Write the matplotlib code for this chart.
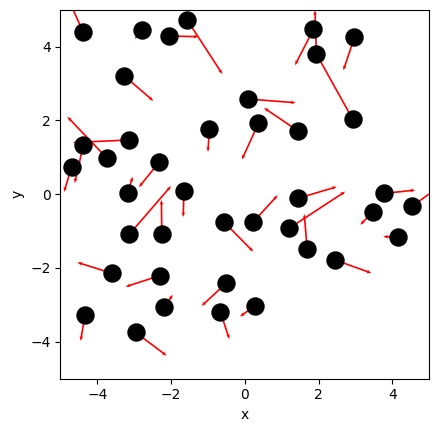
import matplotlib
matplotlib.use("Agg")
import matplotlib.pyplot as plt

# point positions
x = [-4.38, -2.80, -2.05, -1.56, -3.27, 0.09, -0.96, -3.13, -4.38, -3.73,
     -4.69, -2.32, -3.17, -1.65, -3.13, -2.25, -3.59, -2.30, -2.18, -4.33,
     -2.96, -0.56, -0.51, -0.66, 0.28, 0.23, 1.45, 1.21, 1.69, 2.43,
     3.76, 3.46, 4.54, 4.16, 1.86, 1.94, 2.97, 2.92, 1.45, 0.37]
y = [4.39, 4.45, 4.29, 4.72, 3.21, 2.58, 1.76, 1.47, 1.32, 0.97,
     0.75, 0.87, 0.03, 0.09, -1.09, -1.09, -2.15, -2.21, -3.05, -3.28,
     -3.75, -0.76, -2.42, -3.20, -3.02, -0.75, -0.11, -0.92, -1.49, -1.78,
     0.02, -0.49, -0.32, -1.17, 4.47, 3.80, 4.25, 2.04, 1.71, 1.92]

# vector components
u = [-0.40, -0.18, 0.79, 0.95, 0.79, 1.29, -0.04, -1.53, -0.23, -1.08,
     -0.21, -0.55, 0.13, -0.02, 1.13, -0.01, -0.95, -0.93, 0.23, -0.12,
     0.84, 0.79, -0.66, 0.24, -0.41, 0.66, 1.04, 1.51, -0.08, 1.00,
     0.86, -0.33, 0.70, -0.41, -0.50, -0.04, -0.30, -0.98, -0.93, -0.45]
v = [0.90, -0.24, -0.02, -1.46, -0.68, -0.10, -0.61, -0.07, -1.02, 1.13,
     -0.69, -0.68, 0.44, -0.71, 1.31, 0.93, 0.30, -0.30, 0.32, -0.70,
     -0.63, -0.80, -0.61, -0.73, -0.30, 0.72, 0.31, 0.99, 0.95, -0.36,
     0.09, -0.34, 0.50, 0.02, -0.97, 1.19, -0.89, 1.76, 0.63, -0.98]


def main():
    fig = plt.figure(figsize=(4.39, 4.32), dpi=100)
    ax = fig.add_axes([0.1374, 0.1238, 0.8406, 0.8535])

    # thin arrows with small heads, drawn under the dots
    ax.quiver(x, y, u, v, angles="xy", scale_units="xy", scale=1,
              color="red", width=0.0045, headwidth=2.2, headlength=2.8,
              headaxislength=2.5, zorder=2)
    ax.scatter(x, y, s=150, c="black", zorder=3)

    ax.set_xlim(-5, 5)
    ax.set_ylim(-5, 5)
    ax.set_xticks([-4, -2, 0, 2, 4])
    ax.set_yticks([-4, -2, 0, 2, 4])
    ax.set_xlabel("x")
    ax.set_ylabel("y")

    fig.savefig("out.png", dpi=100)
    plt.close(fig)


if __name__ == "__main__":
    main()
